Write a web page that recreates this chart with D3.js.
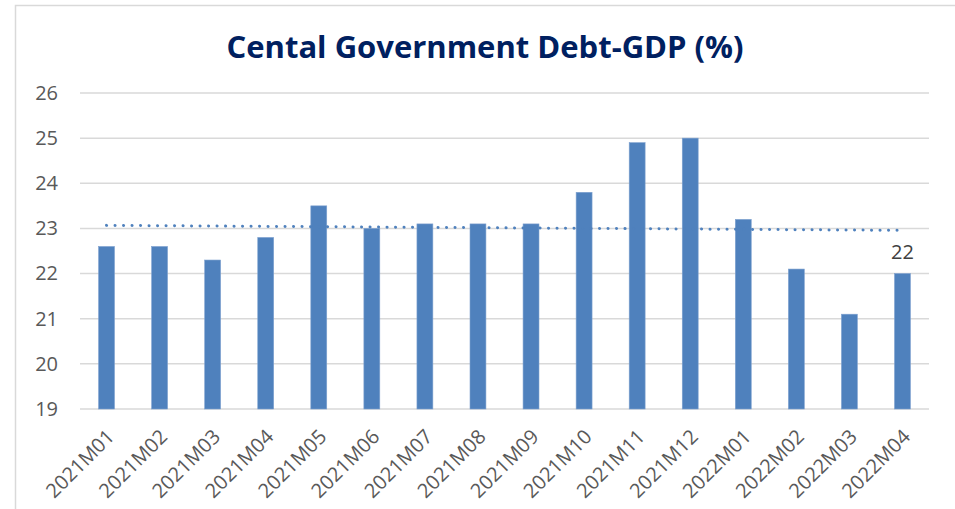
<!DOCTYPE html>
<html>
<head>
<meta charset="utf-8">
<script src="https://cdn.jsdelivr.net/npm/d3@7"></script>
<style>
  body { margin: 0; background: #fff; }
  svg { display: block; }
</style>
</head>
<body>
<div id="chart"></div>
<script>
// month labels and debt-to-GDP values
var months = ["2021M01", "2021M02", "2021M03", "2021M04", "2021M05", "2021M06",
  "2021M07", "2021M08", "2021M09", "2021M10", "2021M11", "2021M12",
  "2022M01", "2022M02", "2022M03", "2022M04"];
var debtGdp = [22.6, 22.6, 22.3, 22.8, 23.5, 23.0, 23.1, 23.1, 23.1, 23.8, 24.9, 25.0,
  23.2, 22.1, 21.1, 22.0];
var yTicks = [19, 20, 21, 22, 23, 24, 25, 26];
var titleText = "Cental Government Debt-GDP (%)";

var width = 955, height = 509;
var margin = {top: 93, right: 26, bottom: 100, left: 80};

var svg = d3.select("#chart").append("svg")
    .attr("width", width)
    .attr("height", height);

// chart area border
svg.append("rect")
    .attr("x", 15.5).attr("y", 5.5)
    .attr("width", 960).attr("height", 520)
    .attr("fill", "#fff")
    .attr("stroke", "#d9d9d9")
    .attr("stroke-width", 1.5);

var x = d3.scaleBand()
    .domain(months)
    .range([margin.left, width - margin.right])
    .paddingInner(0.7)
    .paddingOuter(0.35);

var y = d3.scaleLinear()
    .domain([19, 26])
    .range([height - margin.bottom, margin.top]);

svg.append("text")
    .attr("x", 485)
    .attr("y", 58)
    .attr("text-anchor", "middle")
    .attr("font-family", "Open Sans")
    .attr("font-weight", "bold")
    .attr("font-size", 31)
    .attr("fill", "#002060")
    .text(titleText);

// gridlines
svg.append("g")
  .selectAll("line")
  .data(yTicks)
  .join("line")
    .attr("x1", margin.left)
    .attr("x2", width - margin.right)
    .attr("y1", d => y(d))
    .attr("y2", d => y(d))
    .attr("stroke", "#d9d9d9")
    .attr("stroke-width", 1.5);

// y axis labels
var yAxis = d3.axisLeft(y).tickValues(yTicks).tickFormat(d3.format("d")).tickSize(0).tickPadding(22);
svg.append("g")
    .attr("transform", `translate(${margin.left},0)`)
    .call(yAxis)
    .call(g => g.select(".domain").remove())
    .call(g => g.selectAll("text")
        .attr("font-family", "Open Sans")
        .attr("font-size", 20)
        .attr("fill", "#595959"));

// bars
svg.append("g")
  .selectAll("rect")
  .data(debtGdp)
  .join("rect")
    .attr("x", (d, i) => x(months[i]))
    .attr("y", d => y(d))
    .attr("width", x.bandwidth())
    .attr("height", d => y(19) - y(d))
    .attr("fill", "#4f81bd")
    .attr("stroke", "#7ea1cf")
    .attr("stroke-width", 0.6);

// linear trendline fitted to the bars
var n = debtGdp.length;
var xs = d3.range(1, n + 1);
var mx = d3.mean(xs), my = d3.mean(debtGdp);
var slope = d3.sum(xs, (v, i) => (v - mx) * (debtGdp[i] - my)) / d3.sum(xs, v => (v - mx) * (v - mx));
var icpt = my - slope * mx;
var trend = [1, n].map(v => ({i: v - 1, v: icpt + slope * v}));

svg.append("path")
    .datum(trend)
    .attr("d", d3.line()
      .x(d => x(months[d.i]) + x.bandwidth() / 2)
      .y(d => y(d.v)))
    .attr("fill", "none")
    .attr("stroke", "#4f81bd")
    .attr("stroke-width", 3)
    .attr("stroke-linecap", "round")
    .attr("stroke-dasharray", "0.1 8.4");

// data label on last bar
svg.append("text")
    .attr("x", x(months[n - 1]) + x.bandwidth() / 2)
    .attr("y", y(debtGdp[n - 1]) - 15)
    .attr("text-anchor", "middle")
    .attr("font-family", "Open Sans")
    .attr("font-size", 20)
    .attr("fill", "#404040")
    .text(debtGdp[n - 1]);

// x axis labels
var xAxis = d3.axisBottom(x).tickSize(0).tickPadding(0);
svg.append("g")
    .attr("transform", `translate(0,${y(19)})`)
    .call(xAxis)
    .call(g => g.select(".domain").remove())
    .call(g => g.selectAll("text")
        .attr("font-family", "Open Sans")
        .attr("font-size", 20)
        .attr("fill", "#595959")
        .attr("text-anchor", "end")
        .attr("dy", 0)
        .attr("transform", "translate(9,29) rotate(-45)"));
</script>
</body>
</html>
